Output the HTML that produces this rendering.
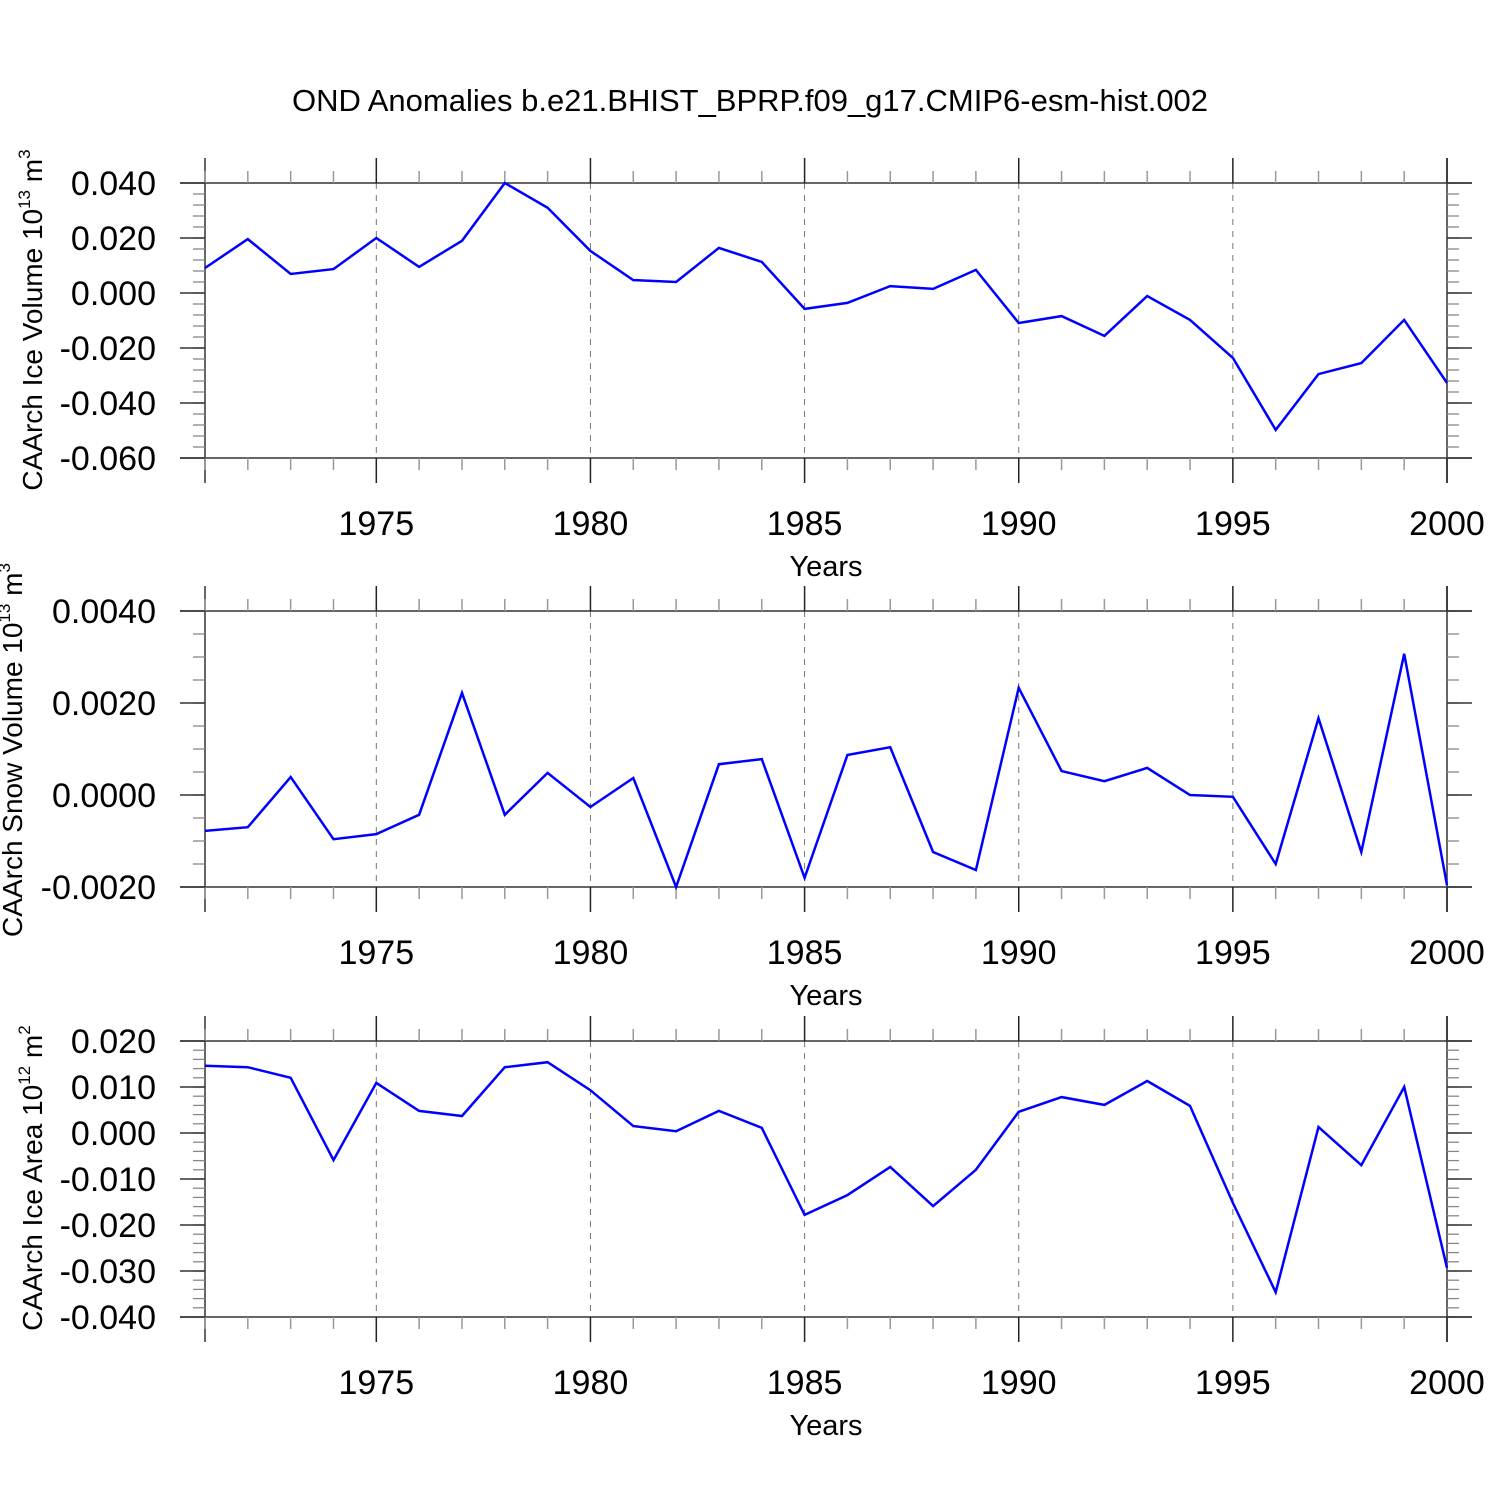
<!DOCTYPE html>
<html><head><meta charset="utf-8"><style>
html,body{margin:0;padding:0;background:#fff;}
svg{display:block;font-family:"Liberation Sans",sans-serif;}
</style></head><body>
<svg id="chart" width="1500" height="1500" viewBox="0 0 1500 1500" xmlns="http://www.w3.org/2000/svg">
<rect width="1500" height="1500" fill="#fff"/>
<text x="750" y="111" font-size="31" text-anchor="middle">OND Anomalies b.e21.BHIST_BPRP.f09_g17.CMIP6-esm-hist.002</text>
</svg>
<script>
const years = [];
for (let y = 1971; y <= 2000; y++) years.push(y);
const iceVolume = [0.0091,0.0196,0.0069,0.0087,0.020,0.0095,0.019,0.040,0.031,0.0153,0.0047,0.004,0.0164,0.0113,-0.0058,-0.0036,0.0025,0.0015,0.0084,-0.0109,-0.0084,-0.0156,-0.0011,-0.0098,-0.0236,-0.0498,-0.0295,-0.0255,-0.0098,-0.0327];
const snowVolume = [-0.00078,-0.0007,0.00039,-0.00096,-0.00085,-0.00043,0.00222,-0.00043,0.00048,-0.00026,0.00037,-0.002,0.00067,0.00078,-0.0018,0.00087,0.00104,-0.00124,-0.00163,0.00233,0.00052,0.0003,0.00059,0.0,-0.00004,-0.0015,0.00167,-0.00124,0.00307,-0.00196];
const iceArea = [0.0146,0.0143,0.012,-0.0059,0.0109,0.0048,0.0037,0.0143,0.0154,0.0093,0.0015,0.0004,0.0048,0.0011,-0.0178,-0.0135,-0.0074,-0.0159,-0.008,0.0046,0.0078,0.0061,0.0113,0.0059,-0.0152,-0.0346,0.0013,-0.007,0.01,-0.0293];
const xTickLabels = [1975,1980,1985,1990,1995,2000];
const iceVolTicks = [0.04,0.02,0,-0.02,-0.04,-0.06];
const snowTicks = [0.004,0.002,0,-0.002];
const areaTicks = [0.02,0.01,0,-0.01,-0.02,-0.03,-0.04];

const svg = document.getElementById('chart');
const NS = 'http://www.w3.org/2000/svg';
function mk(tag, attrs, parent){const e=document.createElementNS(NS,tag);for(const k in attrs)e.setAttribute(k,attrs[k]);(parent||svg).appendChild(e);return e;}

const X0=205, X1=1447;
function xs(yr){return X0+(yr-1971)/(2000-1971)*(X1-X0);}

function panel(cfg){
  const g=mk('g',{});
  
  
  const T=cfg.top,B=cfg.bot;
  const ys=v=>T+(cfg.max-v)/(cfg.max-cfg.min)*(B-T);
  xTickLabels.forEach(yr=>{ if(yr<2000){ const l=mk('line',{x1:xs(yr),x2:xs(yr),y1:T,y2:B,stroke:'#777','stroke-width':1,'stroke-dasharray':'6,6'},g);
    
     }});
  const st={stroke:'#333','stroke-width':1.5};
  mk('line',Object.assign({x1:180,x2:1472,y1:T,y2:T},st),g);
  mk('line',Object.assign({x1:180,x2:1472,y1:B,y2:B},st),g);
  mk('line',Object.assign({x1:X0,x2:X0,y1:T-25,y2:B+25},st),g);
  mk('line',Object.assign({x1:X1,x2:X1,y1:T-25,y2:B+25},st),g);
  years.forEach(yr=>{
    const major=yr%5===0, len=major?25:12, x=xs(yr);
    mk('line',{x1:x,x2:x,y1:T,y2:T-len,stroke:major?'#222':'#999','stroke-width':1.5},g);
    mk('line',{x1:x,x2:x,y1:B,y2:B+len,stroke:major?'#222':'#999','stroke-width':1.5},g);
  });
  for(let v=cfg.min; v<=cfg.max+1e-12; v+=cfg.minor){
    const y=ys(v);
    mk('line',{x1:X0,x2:X0-12,y1:y,y2:y,stroke:'#888','stroke-width':1.3},g);
    mk('line',{x1:X1,x2:X1+12,y1:y,y2:y,stroke:'#888','stroke-width':1.3},g);
  }
  cfg.ticks.forEach(v=>{
    const y=ys(v);
    mk('line',{x1:X0,x2:180,y1:y,y2:y,stroke:'#333','stroke-width':1.5},g);
    mk('line',{x1:X1,x2:1472,y1:y,y2:y,stroke:'#333','stroke-width':1.5},g);
    const t=mk('text',{x:156,y:y+12,'font-size':34,'text-anchor':'end'},g);
    t.textContent=v.toFixed(cfg.dec);
    
    
  });
  xTickLabels.forEach(yr=>{
    const t=mk('text',{x:xs(yr),y:B+77,'font-size':34,'text-anchor':'middle'},g);
    t.textContent=yr;
    
    
  });
  const xt=mk('text',{x:826,y:B+118,'font-size':29,'text-anchor':'middle'},g);
  xt.textContent='Years';
  
  
  const yt=mk('text',{transform:`translate(${cfg.ytx},${cfg.ymid}) rotate(-90)`,'font-size':28,'text-anchor':'middle'},g);
  yt.innerHTML=cfg.label+' 10<tspan dy="-12" font-size="17">'+cfg.exp+'</tspan><tspan dy="12"> m</tspan><tspan dy="-12" font-size="17">'+cfg.unitExp+'</tspan>';
  
  
  const pts=cfg.data.map((v,i)=>xs(years[i]).toFixed(1)+','+ys(v).toFixed(1)).join(' ');
  const pl=mk('polyline',{points:pts,fill:'none',stroke:'#0000ff','stroke-width':2.5,'stroke-linejoin':'miter'},g);
  
  
}
panel({name:'ice-volume-panel',top:183,bot:458,max:0.04,min:-0.06,minor:0.004,ticks:iceVolTicks,dec:3,data:iceVolume,label:'CAArch Ice Volume',exp:'13',unitExp:'3',ymid:320,ytx:42});
panel({name:'snow-volume-panel',top:611,bot:887,max:0.004,min:-0.002,minor:0.0005,ticks:snowTicks,dec:4,data:snowVolume,label:'CAArch Snow Volume',exp:'13',unitExp:'3',ymid:750,ytx:22});
panel({name:'ice-area-panel',top:1041,bot:1317,max:0.02,min:-0.04,minor:0.002,ticks:areaTicks,dec:3,data:iceArea,label:'CAArch Ice Area',exp:'12',unitExp:'2',ymid:1178,ytx:42});
</script>
</body></html>
